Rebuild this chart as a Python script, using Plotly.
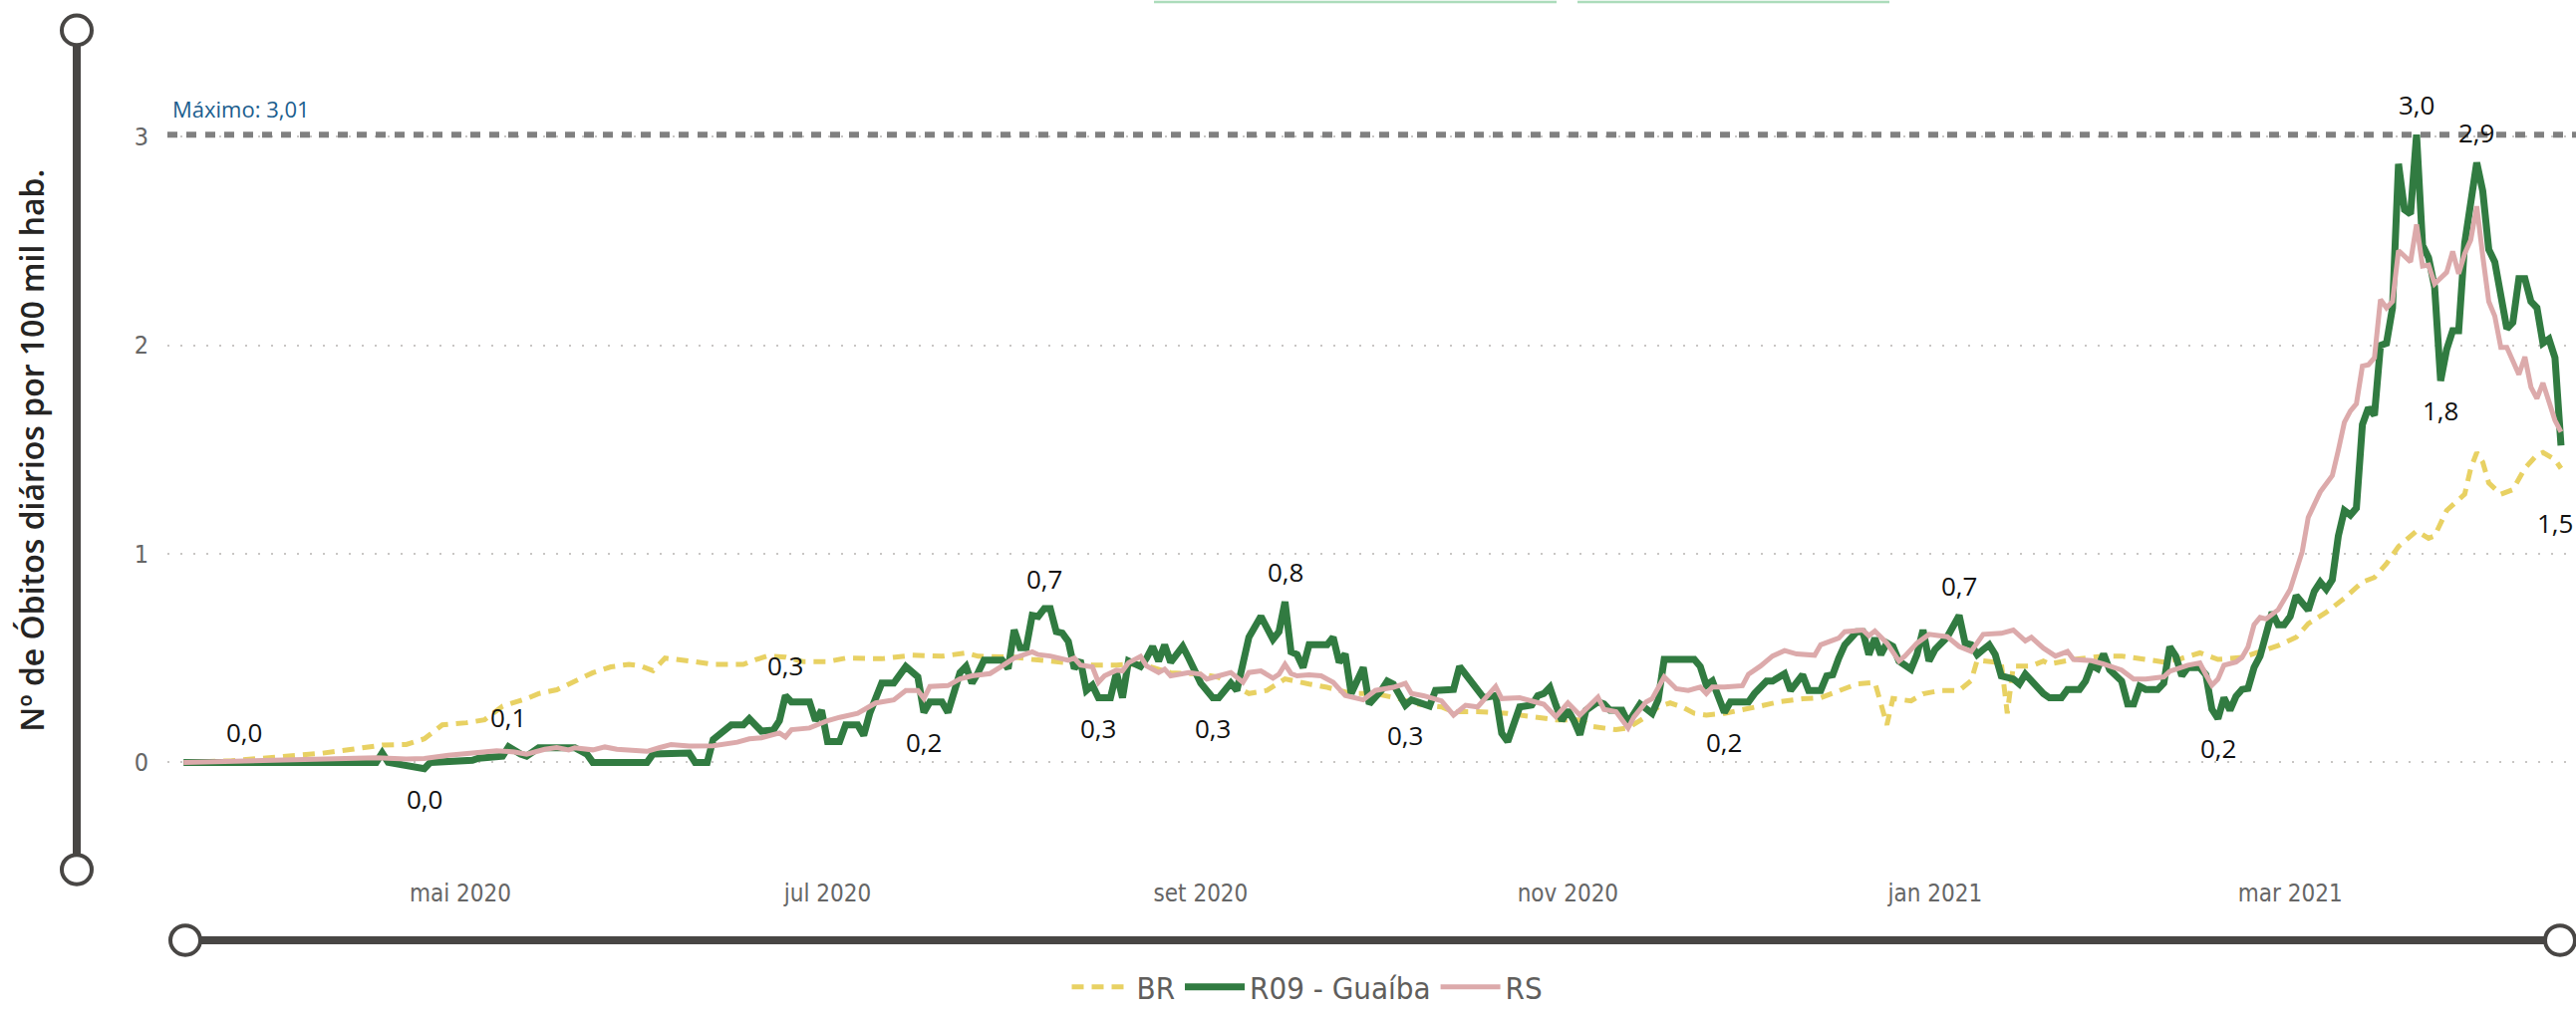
import plotly.graph_objects as go

# ---------------- data ----------------
br_dates = ["2020-03-16","2020-03-24","2020-04-01","2020-04-08","2020-04-13","2020-04-18","2020-04-22","2020-04-25",
            "2020-04-28","2020-05-02","2020-05-05","2020-05-08","2020-05-12","2020-05-14","2020-05-17","2020-05-20",
            "2020-05-23","2020-05-26","2020-05-29","2020-05-31","2020-06-02","2020-06-04","2020-06-07","2020-06-09",
            "2020-06-12","2020-06-17","2020-06-19","2020-06-21","2020-06-24","2020-06-27","2020-07-01","2020-07-04",
            "2020-07-10","2020-07-15","2020-07-20","2020-07-24","2020-07-26","2020-08-01","2020-08-04","2020-08-07",
            "2020-08-11","2020-08-14","2020-08-18","2020-08-22","2020-08-24","2020-08-27","2020-09-01","2020-09-04",
            "2020-09-07","2020-09-09","2020-09-12","2020-09-14","2020-09-15","2020-09-19","2020-09-22","2020-09-26",
            "2020-09-30","2020-10-04","2020-10-07","2020-10-11","2020-10-13","2020-10-17","2020-10-22","2020-10-26",
            "2020-10-30","2020-11-03","2020-11-05","2020-11-09","2020-11-11","2020-11-14","2020-11-16","2020-11-18",
            "2020-11-20","2020-11-22","2020-11-24","2020-11-27","2020-11-30","2020-12-03","2020-12-06","2020-12-10",
            "2020-12-13","2020-12-17","2020-12-19","2020-12-22","2020-12-23","2020-12-24","2020-12-25","2020-12-28",
            "2020-12-30","2021-01-02","2021-01-05","2021-01-07","2021-01-08","2021-01-10","2021-01-12","2021-01-13",
            "2021-01-14","2021-01-17","2021-01-19","2021-01-20","2021-01-24","2021-01-29","2021-02-01","2021-02-05",
            "2021-02-08","2021-02-11","2021-02-14","2021-02-17","2021-02-21","2021-02-24","2021-02-27","2021-03-02",
            "2021-03-04","2021-03-07","2021-03-10","2021-03-13","2021-03-15","2021-03-17","2021-03-19","2021-03-22",
            "2021-03-24","2021-03-25","2021-03-27","2021-03-30","2021-03-31","2021-04-01","2021-04-02","2021-04-03",
            "2021-04-05","2021-04-07","2021-04-09","2021-04-11","2021-04-12","2021-04-14","2021-04-15"]
br_vals = [0.0,0.008,0.027,0.044,0.063,0.083,0.086,0.113,
           0.18,0.19,0.204,0.27,0.306,0.33,0.348,0.39,
           0.43,0.458,0.47,0.462,0.44,0.50,0.492,0.483,
           0.47,0.47,0.492,0.51,0.505,0.483,0.483,0.50,
           0.497,0.514,0.509,0.525,0.509,0.505,0.494,0.486,
           0.473,0.467,0.467,0.473,0.455,0.43,0.423,0.408,
           0.36,0.33,0.345,0.384,0.40,0.376,0.36,0.33,
           0.33,0.305,0.28,0.266,0.243,0.243,0.235,0.219,
           0.204,0.204,0.172,0.157,0.165,0.219,0.266,0.285,
           0.266,0.235,0.227,0.235,0.251,0.27,0.29,0.305,
           0.31,0.353,0.376,0.384,0.282,0.18,0.306,0.295,
           0.329,0.345,0.345,0.392,0.49,0.486,0.478,0.235,
           0.462,0.462,0.486,0.472,0.494,0.51,0.51,0.494,
           0.481,0.499,0.525,0.494,0.503,0.532,0.56,0.60,
           0.665,0.72,0.787,0.865,0.887,0.953,1.035,1.11,
           1.075,1.086,1.208,1.286,1.41,1.486,1.44,1.34,
           1.286,1.308,1.41,1.475,1.486,1.452,1.41]

r09_dates = ["2020-03-16","2020-03-26","2020-04-17","2020-04-18","2020-04-19","2020-04-25","2020-04-26","2020-05-03",
             "2020-05-04","2020-05-08","2020-05-09","2020-05-11","2020-05-12","2020-05-14","2020-05-20","2020-05-22",
             "2020-05-23","2020-06-01","2020-06-02","2020-06-08","2020-06-09","2020-06-11","2020-06-12","2020-06-15",
             "2020-06-17","2020-06-18","2020-06-20","2020-06-22","2020-06-23","2020-06-24","2020-06-25","2020-06-28",
             "2020-06-29","2020-06-30","2020-07-01","2020-07-03","2020-07-04","2020-07-06","2020-07-07","2020-07-08",
             "2020-07-10","2020-07-12","2020-07-14","2020-07-16","2020-07-17","2020-07-18","2020-07-20","2020-07-21",
             "2020-07-23","2020-07-24","2020-07-25","2020-07-26","2020-07-27","2020-07-30","2020-07-31","2020-08-01",
             "2020-08-02","2020-08-03","2020-08-04","2020-08-05","2020-08-06","2020-08-07","2020-08-08","2020-08-09",
             "2020-08-10","2020-08-11","2020-08-12","2020-08-13","2020-08-14","2020-08-15","2020-08-17","2020-08-18",
             "2020-08-19","2020-08-20","2020-08-22","2020-08-23","2020-08-24","2020-08-25","2020-08-26","2020-08-27",
             "2020-08-29","2020-08-30","2020-09-01","2020-09-03","2020-09-04","2020-09-06","2020-09-07","2020-09-09",
             "2020-09-11","2020-09-13","2020-09-14","2020-09-15","2020-09-16","2020-09-17","2020-09-18","2020-09-19",
             "2020-09-22","2020-09-23","2020-09-24","2020-09-25","2020-09-26","2020-09-28","2020-09-29","2020-10-01",
             "2020-10-02","2020-10-03","2020-10-05","2020-10-06","2020-10-07","2020-10-09","2020-10-10","2020-10-13",
             "2020-10-14","2020-10-16","2020-10-18","2020-10-20","2020-10-21","2020-10-22","2020-10-24","2020-10-26",
             "2020-10-27","2020-10-28","2020-10-29","2020-10-30","2020-10-31","2020-11-01","2020-11-02","2020-11-03",
             "2020-11-04","2020-11-06","2020-11-07","2020-11-08","2020-11-10","2020-11-11","2020-11-12","2020-11-13",
             "2020-11-15","2020-11-16","2020-11-17","2020-11-22","2020-11-23","2020-11-24","2020-11-25","2020-11-26",
             "2020-11-27","2020-11-28","2020-12-01","2020-12-02","2020-12-04","2020-12-05","2020-12-07","2020-12-08",
             "2020-12-10","2020-12-11","2020-12-13","2020-12-14","2020-12-15","2020-12-16","2020-12-17","2020-12-19",
             "2020-12-20","2020-12-21","2020-12-22","2020-12-23","2020-12-24","2020-12-25","2020-12-26","2020-12-28",
             "2020-12-29","2020-12-30","2020-12-31","2021-01-01","2021-01-03","2021-01-05","2021-01-06","2021-01-07",
             "2021-01-08","2021-01-09","2021-01-10","2021-01-11","2021-01-12","2021-01-14","2021-01-15","2021-01-16",
             "2021-01-17","2021-01-19","2021-01-20","2021-01-22","2021-01-23","2021-01-25","2021-01-26","2021-01-27",
             "2021-01-28","2021-01-29","2021-01-30","2021-02-01","2021-02-02","2021-02-03","2021-02-04","2021-02-05",
             "2021-02-07","2021-02-08","2021-02-09","2021-02-10","2021-02-11","2021-02-12","2021-02-14","2021-02-15",
             "2021-02-16","2021-02-17","2021-02-18","2021-02-19","2021-02-20","2021-02-21","2021-02-22","2021-02-23",
             "2021-02-24","2021-02-25","2021-02-26","2021-02-27","2021-02-28","2021-03-01","2021-03-02","2021-03-04",
             "2021-03-05","2021-03-06","2021-03-07","2021-03-08","2021-03-09","2021-03-10","2021-03-11","2021-03-12",
             "2021-03-13","2021-03-14","2021-03-15","2021-03-16","2021-03-17","2021-03-18","2021-03-19","2021-03-20",
             "2021-03-21","2021-03-22","2021-03-23","2021-03-24","2021-03-25","2021-03-26","2021-03-27","2021-03-28",
             "2021-03-29","2021-03-30","2021-03-31","2021-04-01","2021-04-02","2021-04-03","2021-04-04","2021-04-05",
             "2021-04-06","2021-04-07","2021-04-08","2021-04-09","2021-04-10","2021-04-11","2021-04-12","2021-04-13",
             "2021-04-14","2021-04-15"]
r09_vals = [0.0,0.0,0.0,0.045,0.0,-0.03,0.0,0.01,
            0.02,0.03,0.075,0.04,0.03,0.07,0.07,0.04,
            0.0,0.0,0.04,0.045,0.0,0.0,0.11,0.18,
            0.18,0.21,0.15,0.155,0.2,0.32,0.29,0.29,
            0.2,0.25,0.10,0.10,0.18,0.18,0.13,0.235,
            0.38,0.38,0.46,0.41,0.24,0.29,0.29,0.24,
            0.43,0.46,0.38,0.43,0.49,0.49,0.45,0.635,
            0.55,0.55,0.705,0.70,0.737,0.737,0.627,0.62,
            0.58,0.45,0.49,0.345,0.37,0.31,0.31,0.43,
            0.31,0.486,0.46,0.50,0.556,0.486,0.564,0.48,
            0.556,0.50,0.38,0.31,0.31,0.38,0.345,0.6,
            0.70,0.59,0.627,0.77,0.53,0.517,0.455,0.564,
            0.564,0.6,0.48,0.52,0.33,0.455,0.28,0.345,
            0.39,0.375,0.274,0.30,0.29,0.27,0.345,0.35,
            0.46,0.39,0.31,0.32,0.14,0.10,0.266,0.275,
            0.32,0.33,0.36,0.275,0.20,0.25,0.20,0.133,
            0.25,0.29,0.28,0.25,0.25,0.19,0.235,0.28,
            0.235,0.30,0.494,0.494,0.46,0.37,0.39,0.31,
            0.24,0.29,0.29,0.33,0.39,0.39,0.425,0.345,
            0.42,0.345,0.345,0.415,0.42,0.5,0.564,0.627,
            0.627,0.517,0.596,0.517,0.572,0.556,0.486,0.447,
            0.517,0.635,0.486,0.541,0.6,0.705,0.572,0.564,
            0.517,0.541,0.564,0.517,0.415,0.40,0.376,0.423,
            0.39,0.33,0.31,0.31,0.35,0.35,0.39,0.466,
            0.45,0.52,0.445,0.39,0.28,0.28,0.365,0.35,
            0.35,0.38,0.554,0.51,0.415,0.455,0.455,0.42,
            0.255,0.21,0.31,0.25,0.317,0.35,0.355,0.455,
            0.51,0.632,0.72,0.66,0.66,0.70,0.80,0.73,
            0.82,0.865,0.83,0.876,1.086,1.208,1.186,1.22,
            1.62,1.70,1.665,2.0,2.01,2.18,2.87,2.65,
            2.63,3.01,2.48,2.42,2.28,1.83,1.98,2.07,
            2.07,2.49,2.68,2.876,2.74,2.46,2.40,2.25,
            2.08,2.11,2.32,2.32,2.21,2.18,2.01,2.03,
            1.94,1.52]

rs_dates = ["2020-03-16","2020-04-05","2020-04-17","2020-04-22","2020-04-25","2020-04-29","2020-05-03","2020-05-07",
            "2020-05-10","2020-05-12","2020-05-15","2020-05-17","2020-05-19","2020-05-20","2020-05-23","2020-05-25",
            "2020-05-27","2020-05-30","2020-06-01","2020-06-03","2020-06-05","2020-06-08","2020-06-12","2020-06-16",
            "2020-06-18","2020-06-20","2020-06-23","2020-06-24","2020-06-25","2020-06-28","2020-07-01","2020-07-03",
            "2020-07-06","2020-07-09","2020-07-12","2020-07-14","2020-07-16","2020-07-17","2020-07-18","2020-07-21",
            "2020-07-23","2020-07-25","2020-07-28","2020-07-30","2020-08-01","2020-08-04","2020-08-05","2020-08-07",
            "2020-08-10","2020-08-11","2020-08-12","2020-08-14","2020-08-15","2020-08-16","2020-08-18","2020-08-19",
            "2020-08-20","2020-08-22","2020-08-23","2020-08-25","2020-08-26","2020-08-27","2020-08-30","2020-09-01",
            "2020-09-02","2020-09-04","2020-09-06","2020-09-08","2020-09-09","2020-09-11","2020-09-13","2020-09-14",
            "2020-09-15","2020-09-16","2020-09-17","2020-09-19","2020-09-21","2020-09-23","2020-09-25","2020-09-28",
            "2020-09-30","2020-10-03","2020-10-05","2020-10-06","2020-10-08","2020-10-11","2020-10-13","2020-10-15",
            "2020-10-17","2020-10-20","2020-10-21","2020-10-24","2020-10-27","2020-10-28","2020-10-30","2020-11-01",
            "2020-11-03","2020-11-06","2020-11-07","2020-11-09","2020-11-11","2020-11-12","2020-11-14","2020-11-15",
            "2020-11-17","2020-11-19","2020-11-21","2020-11-23","2020-11-24","2020-11-25","2020-11-27","2020-11-30",
            "2020-12-01","2020-12-03","2020-12-05","2020-12-07","2020-12-09","2020-12-12","2020-12-13","2020-12-16",
            "2020-12-17","2020-12-20","2020-12-21","2020-12-22","2020-12-24","2020-12-26","2020-12-27","2020-12-29",
            "2020-12-31","2021-01-03","2021-01-05","2021-01-07","2021-01-09","2021-01-12","2021-01-14","2021-01-15",
            "2021-01-16","2021-01-17","2021-01-19","2021-01-21","2021-01-23","2021-01-24","2021-01-27","2021-01-29",
            "2021-02-01","2021-02-03","2021-02-05","2021-02-08","2021-02-09","2021-02-12","2021-02-14","2021-02-15",
            "2021-02-16","2021-02-17","2021-02-18","2021-02-20","2021-02-21","2021-02-22","2021-02-23","2021-02-24",
            "2021-02-25","2021-02-27","2021-03-01","2021-03-03","2021-03-04","2021-03-06","2021-03-08","2021-03-09",
            "2021-03-10","2021-03-11","2021-03-12","2021-03-13","2021-03-14","2021-03-15","2021-03-16","2021-03-17",
            "2021-03-18","2021-03-19","2021-03-20","2021-03-21","2021-03-22","2021-03-23","2021-03-24","2021-03-25",
            "2021-03-27","2021-03-28","2021-03-29","2021-03-30","2021-03-31","2021-04-01","2021-04-02","2021-04-03",
            "2021-04-04","2021-04-05","2021-04-06","2021-04-07","2021-04-08","2021-04-09","2021-04-10","2021-04-11",
            "2021-04-12","2021-04-13","2021-04-14","2021-04-15"]
rs_vals = [0.0,0.011,0.022,0.016,0.019,0.034,0.044,0.056,
           0.05,0.039,0.063,0.071,0.06,0.07,0.06,0.074,
           0.063,0.06,0.053,0.07,0.086,0.078,0.08,0.097,
           0.113,0.118,0.141,0.122,0.157,0.165,0.20,0.216,
           0.235,0.285,0.30,0.345,0.345,0.306,0.364,0.368,
           0.40,0.415,0.426,0.462,0.50,0.53,0.517,0.51,
           0.49,0.50,0.467,0.458,0.384,0.415,0.442,0.439,
           0.478,0.508,0.462,0.431,0.447,0.415,0.431,0.423,
           0.40,0.415,0.431,0.384,0.431,0.439,0.404,0.423,
           0.47,0.426,0.415,0.42,0.415,0.384,0.321,0.30,
           0.345,0.36,0.379,0.33,0.32,0.295,0.227,0.274,
           0.266,0.364,0.306,0.31,0.285,0.279,0.219,0.285,
           0.227,0.313,0.254,0.243,0.165,0.219,0.29,0.306,
           0.41,0.353,0.345,0.361,0.33,0.361,0.361,0.368,
           0.423,0.462,0.51,0.536,0.52,0.514,0.564,0.596,
           0.627,0.635,0.608,0.63,0.572,0.486,0.51,0.572,
           0.614,0.603,0.556,0.533,0.614,0.619,0.635,0.611,
           0.583,0.60,0.548,0.51,0.532,0.494,0.488,0.472,
           0.443,0.40,0.40,0.41,0.437,0.466,0.477,0.421,
           0.37,0.399,0.466,0.481,0.503,0.554,0.66,0.695,
           0.688,0.732,0.83,1.01,1.175,1.297,1.375,1.497,
           1.63,1.685,1.72,1.90,1.907,1.94,2.22,2.18,
           2.21,2.455,2.43,2.40,2.58,2.38,2.385,2.295,
           2.35,2.45,2.343,2.44,2.505,2.667,2.428,2.21,
           2.14,1.99,1.99,1.92,1.86,1.945,1.80,1.745,
           1.82,1.73,1.64,1.585]

# data labels shown on the R09 series: date and side (1 above, -1 below)
label_dates = ["2020-03-26","2020-04-25","2020-05-09","2020-06-24","2020-07-17","2020-08-06","2020-08-15",
               "2020-09-03","2020-09-15","2020-10-05","2020-11-27","2021-01-05","2021-02-17","2021-03-22",
               "2021-04-01","2021-03-26","2021-04-15"]
label_sides = [1,-1,1,1,-1,1,-1,-1,1,-1,-1,1,-1,1,1,-1,-1]

tick_dates = ["2020-05-01","2020-07-01","2020-09-01","2020-11-01","2021-01-01","2021-03-01"]
tick_text = ["mai 2020","jul 2020","set 2020","nov 2020","jan 2021","mar 2021"]
y_ticks = [0, 1, 2, 3]

series_names = ["BR", "R09 - Guaíba", "RS"]

# ---------------- styling / layout ----------------
W, H = 2585, 1018
L, R, T, B = 168, 0, 60, 138
PW, PH = W - L - R, H - T - B

def X(px):
    return (px - L) / PW

def Y(py):
    return (H - B - py) / PH

C_BR, C_R09, C_RS = "#e8d163", "#317b41", "#dcaaab"
DECOR = "#484644"

fig = go.Figure()
fig.add_trace(go.Scatter(x=br_dates, y=br_vals, name=series_names[0], mode="lines",
                         line=dict(color=C_BR, width=5, dash="12px,8px")))
fig.add_trace(go.Scatter(x=r09_dates, y=r09_vals, name=series_names[1], mode="lines",
                         line=dict(color=C_R09, width=7)))
fig.add_trace(go.Scatter(x=rs_dates, y=rs_vals, name=series_names[2], mode="lines",
                         line=dict(color=C_RS, width=5)))

def fmt(v):
    r = round(v, 1)
    if r == 0:
        r = 0.0
    return f"{abs(r) if r == 0 else r:.1f}".replace(".", ",")

r09_lookup = dict(zip(r09_dates, r09_vals))
annotations = []
last_date = r09_dates[-1]
for d, s in zip(label_dates, label_sides):
    v = r09_lookup[d]
    ys = 30 * s
    xs = 0
    if d == last_date:
        ys, xs = -78, -6
    annotations.append(dict(x=d, y=v, xref="x", yref="y", text=fmt(v), showarrow=False,
                            yshift=ys, xshift=xs,
                            font=dict(family="Open Sans", size=26, color="#111111")))

vmax = max(r09_vals)
annotations.append(dict(x=X(171), y=Y(110), xref="paper", yref="paper", xanchor="left", yanchor="middle",
                        text=f"Máximo: {vmax:.2f}".replace(".", ","), showarrow=False,
                        font=dict(family="Open Sans", size=22, color="#1b5e8e")))
annotations.append(dict(x=X(32), y=Y(458), xref="paper", yref="paper", xanchor="center", yanchor="middle",
                        text="Nº de Óbitos diários por 100 mil hab.", textangle=-90, showarrow=False,
                        font=dict(family="Open Sans", size=32, color="#252423", weight=600)))

shapes = []
# max constant line
shapes.append(dict(type="line", xref="paper", yref="y", x0=0, x1=1, y0=vmax, y1=vmax,
                   line=dict(color="#808080", width=6, dash="10px,9px"), layer="above"))
# left decorative vertical line with hollow circles
vx, vy0, vy1 = 77, 30, 884
shapes.append(dict(type="line", xref="paper", yref="paper", x0=X(vx), x1=X(vx), y0=Y(vy0), y1=Y(vy1),
                   line=dict(color=DECOR, width=8)))
# bottom decorative horizontal line with hollow circles
hy, hx0, hx1 = 956, 186, 2569
shapes.append(dict(type="line", xref="paper", yref="paper", x0=X(hx0), x1=X(hx1), y0=Y(hy), y1=Y(hy),
                   line=dict(color=DECOR, width=8)))
rr = 15
for cx, cy in [(vx, vy0), (vx, vy1), (hx0, hy), (hx1, hy)]:
    shapes.append(dict(type="circle", xref="paper", yref="paper",
                       x0=X(cx - rr), x1=X(cx + rr), y0=Y(cy + rr), y1=Y(cy - rr),
                       fillcolor="white", line=dict(color=DECOR, width=4)))
# thin light-green bars at the very top
for bx0, bx1 in [(1158, 1562), (1583, 1896)]:
    shapes.append(dict(type="rect", xref="paper", yref="paper", x0=X(bx0), x1=X(bx1), y0=Y(2.5), y1=Y(0),
                       fillcolor="#acdcbb", line=dict(width=0)))

fig.update_layout(
    width=W, height=H, autosize=False,
    margin=dict(l=L, r=R, t=T, b=B, pad=0),
    paper_bgcolor="white", plot_bgcolor="white",
    font=dict(family="Open Sans", color="#666666"),
    showlegend=True,
    legend=dict(orientation="h", x=X(1312), y=Y(1004), xanchor="center", yanchor="middle",
                font=dict(family="DejaVu Sans Condensed", size=31, color="#605e5c"),
                itemwidth=60, bgcolor="rgba(0,0,0,0)"),
    xaxis=dict(type="date", range=["2020-03-13 07:40", "2021-04-17 11:45"],
               tickvals=tick_dates, ticktext=tick_text, showgrid=False, zeroline=False, showline=False,
               ticks="", ticklabelstandoff=11,
               tickfont=dict(family="DejaVu Sans Condensed", size=24, color="#666666")),
    yaxis=dict(range=[-0.4948, 3.3695], tickvals=y_ticks, ticktext=[str(v) for v in y_ticks],
               showgrid=True, gridcolor="#c8c6c4", gridwidth=2, griddash="2px,11px",
               zeroline=False, showline=False, ticks="", ticklabelstandoff=18,
               tickfont=dict(family="DejaVu Sans Condensed", size=25, color="#666666")),
    annotations=annotations,
    shapes=shapes,
)

fig.write_html("out.html", config={"displayModeBar": False},
               post_script="document.body.style.margin='0';document.body.style.overflow='hidden';")
